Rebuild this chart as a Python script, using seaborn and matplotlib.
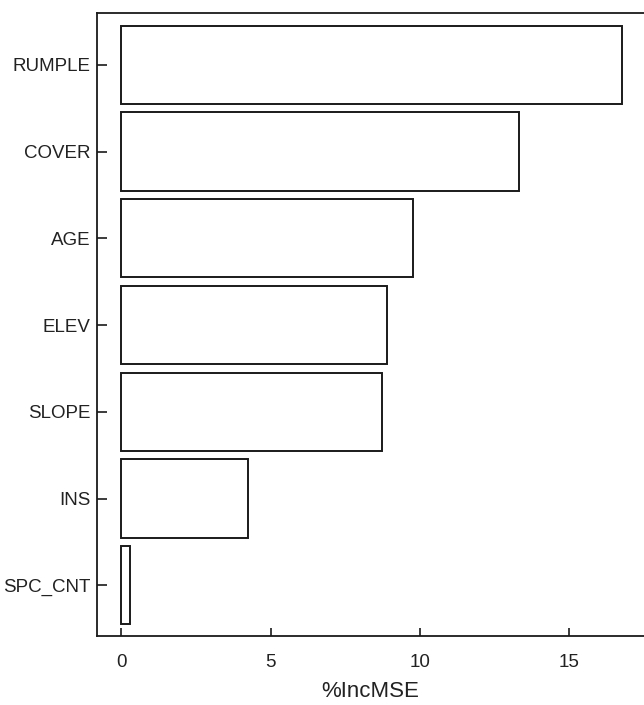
import matplotlib
matplotlib.use("Agg")
import matplotlib.pyplot as plt
import seaborn as sns
import pandas as pd

categories = ["RUMPLE", "COVER", "AGE", "ELEV", "SLOPE", "INS", "SPC_CNT"]
values = [16.77, 13.32, 9.78, 8.90, 8.72, 4.26, 0.31]
xticks = [0, 5, 10, 15]
xlabel = "%IncMSE"

sns.set_theme(style="white")
plt.rcParams['font.family'] = ['Liberation Sans', 'DejaVu Sans']

df = pd.DataFrame({"var": categories, "val": values})

fig = plt.figure(figsize=(6.44, 7.05), dpi=100)
ax = fig.add_axes([0.150, 0.0972, 0.85, 0.8848])

sns.barplot(data=df, x="val", y="var", order=categories, orient="h",
            color="white", edgecolor="#1a1a1a", linewidth=1.4, width=0.9,
            saturation=1, ax=ax)

ax.set_xlim(-0.82, 17.5)
ax.set_ylim(6.59, -0.6)
ax.set_xticks(xticks)
ax.set_xticklabels([str(t) for t in xticks])
ax.set_xlabel(xlabel, fontsize=16, color="#222222", labelpad=7)
ax.set_ylabel("")

for s in ["left", "bottom", "top"]:
    ax.spines[s].set_visible(True)
    ax.spines[s].set_color("#1a1a1a")
    ax.spines[s].set_linewidth(1.3)
ax.spines["right"].set_visible(False)

ax.tick_params(axis="x", direction="in", length=6, width=1.2, color="#1a1a1a",
               labelsize=13.5, labelcolor="#222222", pad=12.5, bottom=True, left=False)
ax.tick_params(axis="y", direction="in", length=7, width=1.2, color="#1a1a1a",
               labelsize=13.5, labelcolor="#222222", pad=4.5, left=True)

fig.savefig("out.png", dpi=100)
